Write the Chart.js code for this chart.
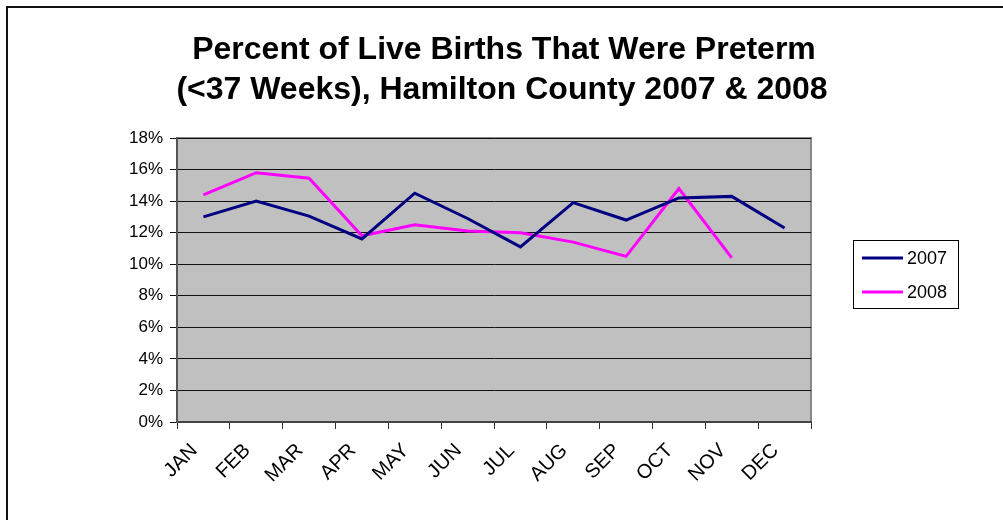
<!DOCTYPE html>
<html>
<head>
<meta charset="utf-8">
<script src="https://cdn.jsdelivr.net/npm/chart.js@4.4.1/dist/chart.umd.min.js"></script>
<style>
  body { margin: 0; background: #fff; }
  #wrap { width: 1003px; height: 520px; }
</style>
</head>
<body>
<div id="wrap"><canvas id="preterm"></canvas></div>
<script>
var months = ['JAN','FEB','MAR','APR','MAY','JUN','JUL','AUG','SEP','OCT','NOV','DEC']
var births2007 = [13.0, 14.0, 13.05, 11.6, 14.5, 12.9, 11.1, 13.9, 12.8, 14.2, 14.3, 12.3]
var births2008 = [14.4, 15.8, 15.45, 11.8, 12.5, 12.1, 12.0, 11.4, 10.5, 14.8, 10.4, null]
var yTicks = [0, 2, 4, 6, 8, 10, 12, 14, 16, 18]
var titleLines = ['Percent of Live Births That Were Preterm', '(<37 Weeks), Hamilton County 2007 & 2008']
var seriesNames = ['2007', '2008']
var seriesColors = ['#000080', '#ff00ff']

var FONT = 'Liberation Sans, Arial, Helvetica, sans-serif'

// background, outer frame and grey plot area
var backdrop = {
  id: 'backdrop',
  beforeDraw: function(chart) {
    var ctx = chart.ctx, a = chart.chartArea
    ctx.save()
    ctx.fillStyle = '#fff'
    ctx.fillRect(0, 0, chart.width, chart.height)
    ctx.fillStyle = '#c0c0c0'
    ctx.fillRect(a.left, a.top, a.right - a.left, a.bottom - a.top)
    ctx.strokeStyle = '#888'
    ctx.lineWidth = 2
    ctx.beginPath()
    ctx.moveTo(a.left, a.top)
    ctx.lineTo(a.right, a.top)
    ctx.lineTo(a.right, a.bottom)
    ctx.stroke()
    // frame of the picture (top and left only)
    ctx.strokeStyle = '#111'
    ctx.lineWidth = 2
    ctx.beginPath()
    ctx.moveTo(7, chart.height)
    ctx.lineTo(7, 7)
    ctx.lineTo(chart.width, 7)
    ctx.stroke()
    ctx.restore()
  },
  afterDraw: function(chart) {
    var ctx = chart.ctx
    ctx.save()
    // title
    ctx.fillStyle = '#000'
    ctx.font = 'bold 32px ' + FONT
    ctx.textAlign = 'center'
    ctx.textBaseline = 'middle'
    ctx.fillText(titleLines[0], 504, 50)
    ctx.fillText(titleLines[1], 502, 90)
    // legend box
    ctx.strokeStyle = '#000'
    ctx.lineWidth = 1
    ctx.strokeRect(853.5, 240.5, 105, 68)
    ctx.font = '18px ' + FONT
    ctx.textAlign = 'left'
    for (var i = 0; i < seriesNames.length; i++) {
      var yy = 258 + i * 34
      ctx.strokeStyle = seriesColors[i]
      ctx.lineWidth = 3
      ctx.beginPath()
      ctx.moveTo(862, yy)
      ctx.lineTo(903, yy)
      ctx.stroke()
      ctx.fillStyle = '#000'
      ctx.fillText(seriesNames[i], 907, yy + 1)
    }
    ctx.restore()
  }
}

var can = document.getElementById('preterm')
var config = {
  type: 'line',
  data: {
    labels: months,
    datasets: [
      {label: seriesNames[0], data: births2007, borderColor: seriesColors[0], borderWidth: 3, pointRadius: 0, tension: 0},
      {label: seriesNames[1], data: births2008, borderColor: seriesColors[1], borderWidth: 3, pointRadius: 0, tension: 0}
    ]
  },
  options: {
    responsive: false,
    animation: false,
    devicePixelRatio: 1,
    layout: {padding: {top: 138, right: 192, bottom: 0, left: 0}},
    plugins: {legend: {display: false}, title: {display: false}, tooltip: {enabled: false}},
    scales: {
      x: {
        offset: true,
        grid: {offset: true, drawOnChartArea: false, color: '#333', tickLength: 7, lineWidth: 1},
        border: {color: '#444', width: 2},
        ticks: {color: '#000', font: {family: FONT, size: 20}, minRotation: 45, maxRotation: 45, padding: 10, labelOffset: -9},
        afterFit: function(s) { s.height = 98 }
      },
      y: {
        min: 0,
        max: 18,
        afterBuildTicks: function(s) { s.ticks = yTicks.map(function(v) { return {value: v} }) },
        grid: {color: '#111', lineWidth: 1, tickLength: 7},
        border: {color: '#555', width: 2},
        ticks: {color: '#000', font: {family: FONT, size: 17}, padding: 7, callback: function(v) { return v + '%' }},
        afterFit: function(s) { s.width = 177 }
      }
    }
  },
  plugins: [backdrop]
}
can.width = 1003
can.height = 520
var la = new Chart(can, config)
</script>
</body>
</html>
